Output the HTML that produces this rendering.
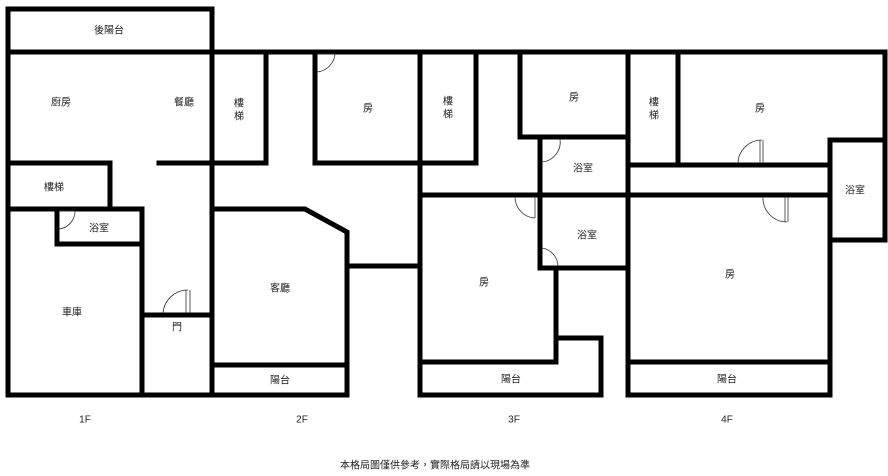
<!DOCTYPE html>
<html><head><meta charset="utf-8"><style>
html,body{margin:0;padding:0;background:#fff;width:888px;height:476px;overflow:hidden}
svg{display:block}
text{font-family:"Liberation Sans","Noto Sans CJK TC",sans-serif;font-size:10px;fill:#222;text-anchor:middle;dominant-baseline:middle}
</style></head><body>
<svg width="888" height="476" viewBox="0 0 888 476">
<g stroke="#000" stroke-width="5" fill="none" stroke-linecap="square">
<!-- 1F -->
<polyline points="212,52 212,9 8,9 8,395 212,395"/>
<line x1="8" y1="52" x2="212" y2="52"/>
<line x1="212" y1="52" x2="212" y2="395"/>
<polyline points="8,163 110,163 110,209"/>
<line x1="159" y1="163" x2="212" y2="163"/>
<line x1="8" y1="209" x2="142" y2="209"/>
<line x1="142" y1="209" x2="142" y2="395"/>
<polyline points="57,209 57,244 142,244"/>
<line x1="142" y1="315" x2="212" y2="315"/>
<!-- 2F -->
<line x1="212" y1="52" x2="885" y2="52"/>
<polyline points="266,52 266,163 212,163"/>
<polyline points="315,52 315,163 420,163"/>
<polyline points="212,209 305,209 347,232 347,395 212,395"/>
<line x1="212" y1="365" x2="347" y2="365"/>
<line x1="347" y1="266" x2="420" y2="266"/>
<!-- 3F -->
<line x1="420" y1="52" x2="420" y2="395"/>
<polyline points="476,52 476,163 420,163"/>
<polyline points="520,52 520,137 628,137"/>
<line x1="628" y1="52" x2="628" y2="395"/>
<line x1="540" y1="137" x2="540" y2="268"/>
<line x1="420" y1="195" x2="830" y2="195"/>
<line x1="540" y1="268" x2="628" y2="268"/>
<polyline points="420,362 556,362 556,268"/>
<polyline points="556,338 601,338 601,395 420,395"/>
<!-- 4F -->
<polyline points="678,52 678,165"/>
<line x1="628" y1="165" x2="830" y2="165"/>
<polyline points="885,52 885,240 830,240"/>
<line x1="830" y1="140" x2="885" y2="140"/>
<line x1="830" y1="140" x2="830" y2="395"/>
<line x1="628" y1="362" x2="830" y2="362"/>
<line x1="628" y1="395" x2="830" y2="395"/>
</g>
<g stroke="#333" stroke-width="0.8" fill="none">
<path d="M59,229 A18,18 0 0 0 75,211"/><line x1="59" y1="211" x2="75" y2="211"/>
<path d="M317,72 A20,20 0 0 0 335,54"/><line x1="317" y1="54" x2="335" y2="54"/>
<path d="M163,313 A25,25 0 0 1 188,290"/><line x1="186" y1="290" x2="186" y2="313"/><line x1="190" y1="290" x2="190" y2="313"/>
<path d="M542,162 A20,20 0 0 0 560,139"/>
<path d="M515,197 A21,21 0 0 0 535,218"/><line x1="535" y1="197" x2="535" y2="218"/>
<path d="M542,248 A19,19 0 0 1 558,266"/>
<path d="M738,163 A24,24 0 0 1 762,140"/><line x1="760" y1="140" x2="760" y2="163"/><line x1="763" y1="140" x2="763" y2="163"/>
<path d="M763,197 A24,24 0 0 0 787,222"/><line x1="785" y1="197" x2="785" y2="222"/><line x1="788" y1="197" x2="788" y2="222"/>
</g>
<text x="109" y="31">後陽台</text>
<text x="61" y="103">廚房</text>
<text x="184" y="103">餐廳</text>
<text x="54" y="188">樓梯</text>
<text x="99" y="229">浴室</text>
<text x="72" y="313">車庫</text>
<text x="177" y="328">門</text>
<text x="239" y="104">樓</text><text x="239" y="117">梯</text>
<text x="368" y="109">房</text>
<text x="280" y="289">客廳</text>
<text x="280" y="381">陽台</text>
<text x="448" y="102">樓</text><text x="448" y="115">梯</text>
<text x="574" y="98">房</text>
<text x="583" y="169">浴室</text>
<text x="587" y="236">浴室</text>
<text x="484" y="283">房</text>
<text x="511" y="380">陽台</text>
<text x="654" y="103">樓</text><text x="654" y="116">梯</text>
<text x="760" y="109">房</text>
<text x="855" y="191">浴室</text>
<text x="730" y="275">房</text>
<text x="727" y="380">陽台</text>
<text x="85" y="420">1F</text>
<text x="302" y="420">2F</text>
<text x="514" y="420">3F</text>
<text x="727" y="420">4F</text>
<text x="435" y="466">本格局圖僅供參考，實際格局請以現場為準</text>
</svg>
</body></html>
